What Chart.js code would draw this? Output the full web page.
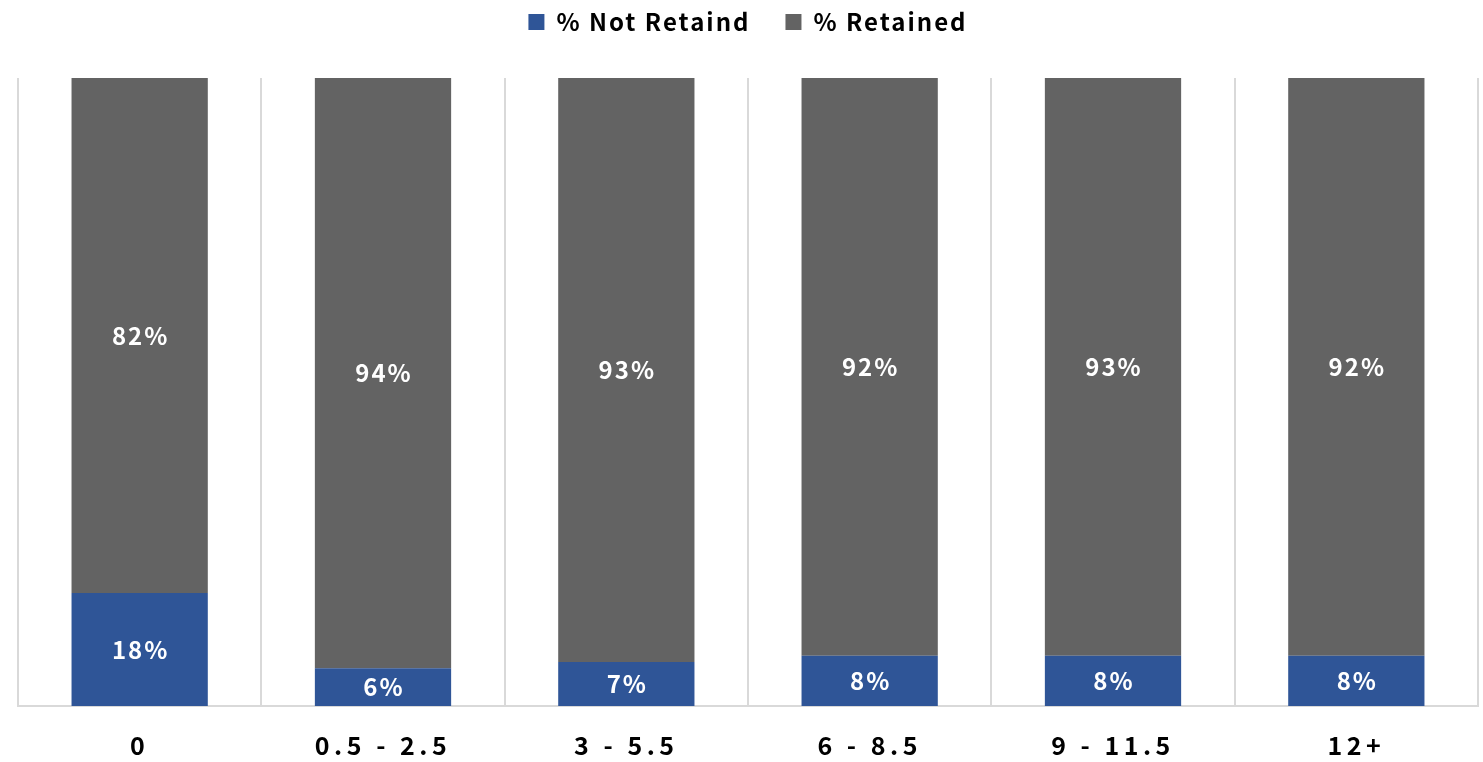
<!DOCTYPE html>
<html>
<head>
<meta charset="utf-8">
<script src="https://cdn.jsdelivr.net/npm/chart.js@4/dist/chart.umd.min.js"></script>
<style>
  html, body { margin: 0; padding: 0; background: #fff; }
  #wrap { width: 1483px; height: 762px; position: relative; }
</style>
</head>
<body>
<div id="wrap"><canvas id="c"></canvas></div>
<script>
// Years of experience bands
const categories = ['0', '0.5 - 2.5', '3 - 5.5', '6 - 8.5', '9 - 11.5', '12+'];
// Share of staff per band (percent)
const notRetained = [18, 6, 7, 8, 8, 8];
const retained = [82, 94, 93, 92, 93, 92];

const FONT = '"Noto Sans CJK KR", "Noto Sans", sans-serif';
const PLOT_TOP = 78;
const AXIS_BAND = 54;

// Wider text tracking, fixed legend and axis bands, tracked x labels
const spacing = {
  id: 'spacing',
  beforeUpdate(chart) { chart.ctx.letterSpacing = '2px'; },
  beforeLayout(chart) {
    const lg = chart.legend;
    if (lg && !lg._patched) {
      const fit = lg.fit.bind(lg);
      lg.fit = function () { fit(); this.height = PLOT_TOP - chart.options.layout.padding.top; };
      lg._patched = true;
    }
    const xs = chart.scales.x;
    if (xs && !xs._patched) {
      const xfit = xs.fit.bind(xs);
      xs.fit = function () { xfit(); this.height = AXIS_BAND; };
      const dl = xs.drawLabels.bind(xs);
      xs.drawLabels = function (area) {
        const ctx = this.ctx;
        const prev = ctx.letterSpacing;
        ctx.letterSpacing = '4.5px';
        dl(area);
        ctx.letterSpacing = prev;
      };
      xs._patched = true;
    }
  },
  beforeDraw(chart) { chart.ctx.letterSpacing = '2px'; }
};

// Writes each segment's value in the middle of its bar
const barLabels = {
  id: 'barLabels',
  afterDatasetsDraw(chart) {
    const ctx = chart.ctx;
    ctx.save();
    ctx.letterSpacing = '2px';
    ctx.font = 'bold 24px ' + FONT;
    ctx.fillStyle = '#ffffff';
    ctx.textAlign = 'center';
    ctx.textBaseline = 'middle';
    chart.data.datasets.forEach((ds, i) => {
      chart.getDatasetMeta(i).data.forEach((bar, j) => {
        const top = Math.max(bar.y, chart.chartArea.top);
        const cy = (top + bar.base) / 2;
        ctx.fillText(ds.data[j] + '%', bar.x + 1, cy);
      });
    });
    ctx.restore();
  }
};

new Chart(document.getElementById('c'), {
  type: 'bar',
  data: {
    labels: categories,
    datasets: [
      { label: '% Not Retaind', data: notRetained, backgroundColor: '#2F5597' },
      { label: '% Retained', data: retained, backgroundColor: '#636363' }
    ]
  },
  options: {
    responsive: true,
    maintainAspectRatio: false,
    animation: false,
    layout: { padding: { left: 18, right: 5, top: -25, bottom: 2 } },
    datasets: { bar: { categoryPercentage: 1, barPercentage: 0.56 } },
    plugins: {
      legend: {
        position: 'top',
        labels: {
          boxWidth: 16, boxHeight: 16, padding: 35,
          color: '#000',
          font: { family: FONT, size: 24, weight: 'bold' }
        }
      },
      tooltip: { enabled: false },
      title: { display: false }
    },
    scales: {
      x: {
        stacked: true,
        grid: { display: true, offset: true, color: '#d9d9d9', lineWidth: 2, drawTicks: false },
        border: { display: true, color: '#d9d9d9', width: 2 },
        ticks: { color: '#000', padding: 24, font: { family: FONT, size: 25, weight: 'bold' } }
      },
      y: {
        stacked: true,
        min: 0, max: 100,
        display: false
      }
    }
  },
  plugins: [spacing, barLabels]
});
</script>
</body>
</html>
